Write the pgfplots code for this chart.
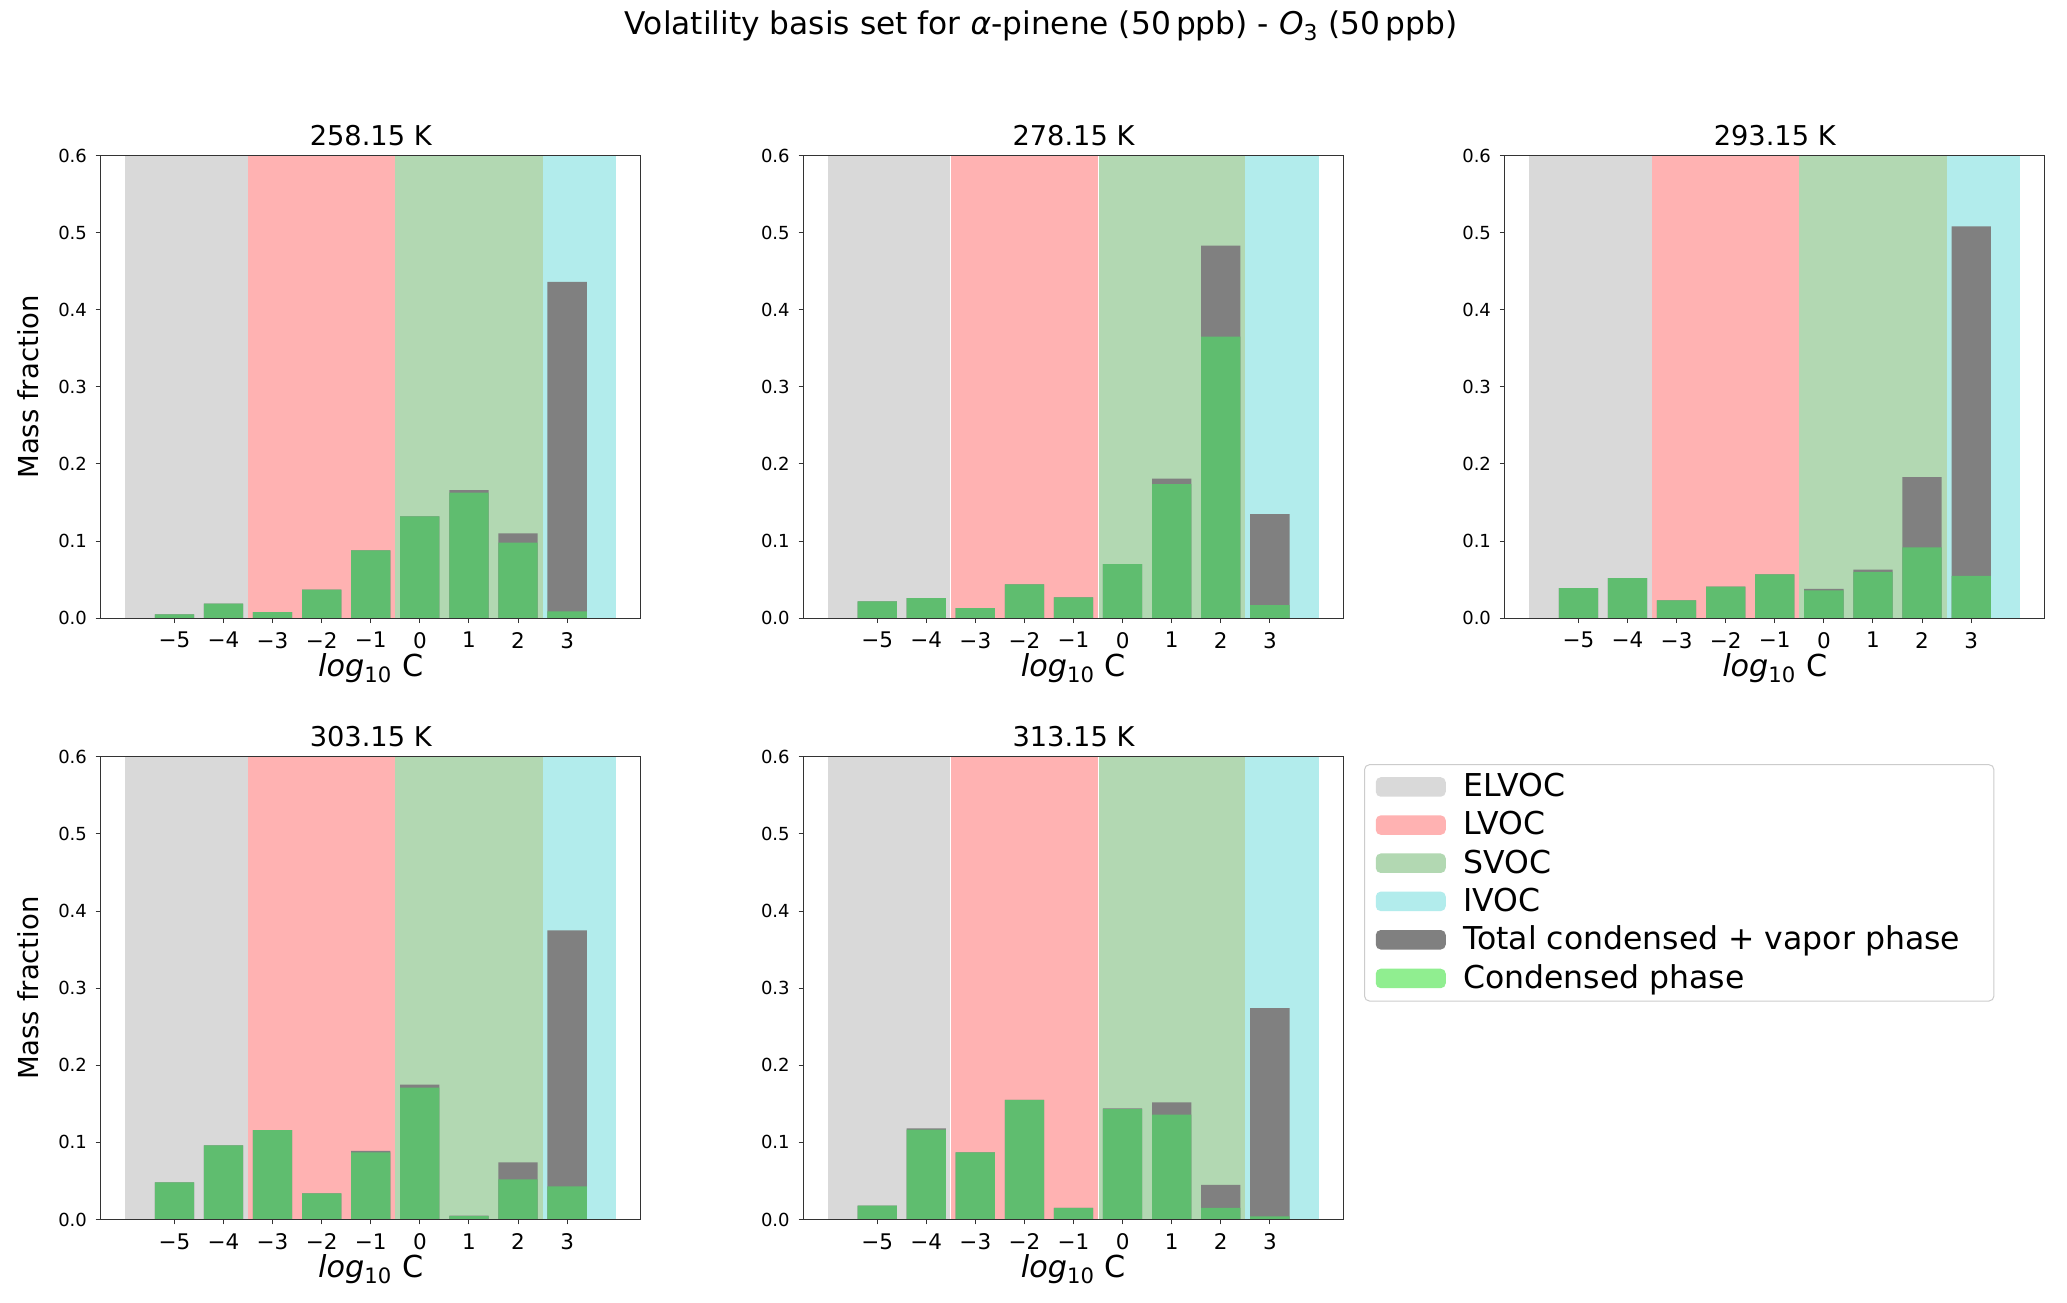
\documentclass[border=0pt]{standalone}
\usepackage{pgfplots}
\usepackage{pgfplotstable}
\usepackage{fontspec}
\pgfplotsset{compat=1.18}
\setmainfont{DejaVu Sans}

\definecolor{elvoc}{HTML}{D9D9D9}
\definecolor{lvoc}{HTML}{FFB2B2}
\definecolor{svoc}{HTML}{B2D8B2}
\definecolor{ivoc}{HTML}{B2ECEC}
\definecolor{totgray}{HTML}{808080}
\definecolor{condgreen}{HTML}{5FBD6F}
\definecolor{condlegend}{HTML}{90EE90}

% x = log10 C, total = condensed + vapour, cond = condensed only
\pgfplotstableread{
x  total  cond
-5 0.005  0.005
-4 0.019  0.019
-3 0.008  0.008
-2 0.037  0.037
-1 0.088  0.088
0  0.132  0.132
1  0.166  0.163
2  0.110  0.098
3  0.436  0.009
}\tA
\pgfplotstableread{
x  total  cond
-5 0.022  0.022
-4 0.026  0.026
-3 0.013  0.013
-2 0.044  0.044
-1 0.027  0.027
0  0.070  0.070
1  0.181  0.174
2  0.483  0.365
3  0.135  0.017
}\tB
\pgfplotstableread{
x  total  cond
-5 0.039  0.039
-4 0.052  0.052
-3 0.023  0.023
-2 0.041  0.041
-1 0.057  0.057
0  0.038  0.036
1  0.063  0.060
2  0.183  0.092
3  0.508  0.055
}\tC
\pgfplotstableread{
x  total  cond
-5 0.048  0.048
-4 0.096  0.096
-3 0.116  0.116
-2 0.034  0.034
-1 0.089  0.087
0  0.175  0.171
1  0.005  0.0045
2  0.074  0.052
3  0.375  0.043
}\tD
\pgfplotstableread{
x  total  cond
-5 0.018  0.018
-4 0.118  0.1165
-3 0.087  0.087
-2 0.155  0.155
-1 0.015  0.015
0  0.144  0.143
1  0.152  0.136
2  0.045  0.015
3  0.274  0.004
}\tE

\pgfplotsset{
  vbs/.style={
    width=216pt, height=185.1pt, scale only axis,
    anchor=south west,
    xmin=-6.5, xmax=4.5, ymin=0, ymax=0.6,
    xtick={-5,-4,-3,-2,-1,0,1,2,3},
    xticklabels={−5,−4,−3,−2,−1,0,1,2,3},
    ytick={0,0.1,0.2,0.3,0.4,0.5,0.6},
    yticklabels={0.0,0.1,0.2,0.3,0.4,0.5,0.6},
    xtick pos=bottom, ytick pos=left,
    tick align=outside, major tick length=2pt,
    tick style={black!80, line width=0.4pt},
    axis line style={black!80, line width=0.5pt},
    axis on top,
    x tick label style={font=\fontsize{8.6}{10}\selectfont},
    y tick label style={font=\fontsize{7.2}{8}\selectfont},
    xlabel={\textit{log}\textsubscript{10} C},
    xlabel style={font=\fontsize{12.1}{14}\selectfont},
    xlabel shift=-4.7pt,
    ylabel style={font=\fontsize{11}{12}\selectfont},
    ylabel shift=1pt,
    title style={font=\fontsize{10.9}{12}\selectfont, yshift=-5.5pt},
    legend image code/.code={\fill[#1] (0pt,-3.9pt) rectangle (28pt,3.9pt);},
  },
}

\newcommand{\vbspanel}[1]{%
  \addplot[draw=none, fill=elvoc, forget plot] coordinates {(-6,0) (-3.5,0) (-3.5,0.6) (-6,0.6)} -- cycle;
  \addplot[draw=none, fill=lvoc, forget plot] coordinates {(-3.5,0) (-0.5,0) (-0.5,0.6) (-3.5,0.6)} -- cycle;
  \addplot[draw=none, fill=svoc, forget plot] coordinates {(-0.5,0) (2.5,0) (2.5,0.6) (-0.5,0.6)} -- cycle;
  \addplot[draw=none, fill=ivoc, forget plot] coordinates {(2.5,0) (4,0) (4,0.6) (2.5,0.6)} -- cycle;
  \addplot[ybar, bar width=0.8, bar shift=0pt, draw=none, fill=totgray, forget plot] table[x=x, y=total] {#1};
  \addplot[ybar, bar width=0.8, bar shift=0pt, draw=none, fill=condgreen, forget plot] table[x=x, y=cond] {#1};
}
% thin light seams between the bands (seen in two of the panels)
\newcommand{\seams}{%
  \addplot[white, line width=0.35pt, forget plot] coordinates {(-3.5,0) (-3.5,0.6)};
  \addplot[white, line width=0.35pt, forget plot] coordinates {(-0.5,0) (-0.5,0.6)};
}

\begin{document}
\begin{tikzpicture}
\path[use as bounding box] (0,0) rectangle (826.8pt,521.2pt);

\node[font=\fontsize{12.5}{14}\selectfont] at (416.5pt,510.8pt)
  {Volatility basis set for \textit{α}-pinene (50\,ppb) - \textit{O}\textsubscript{3} (50\,ppb)};

\begin{axis}[vbs, at={(40.3pt,273.9pt)}, title={258.15 K}, ylabel={Mass fraction}]
  \vbspanel{\tA}
\end{axis}

\begin{axis}[vbs, at={(321.4pt,273.9pt)}, title={278.15 K}]
  \vbspanel{\tB}
  \seams
\end{axis}

\begin{axis}[vbs, at={(601.9pt,273.9pt)}, title={293.15 K}]
  \vbspanel{\tC}
\end{axis}

\begin{axis}[vbs, at={(40.3pt,33.4pt)}, title={303.15 K}, ylabel={Mass fraction}]
  \vbspanel{\tD}
\end{axis}

\begin{axis}[vbs, at={(321.4pt,33.4pt)}, title={313.15 K},
  legend cell align=left,
  legend style={at={(1.0,0.984)}, xshift=8.2pt, anchor=north west,
    draw=black!20, rounded corners=2pt, inner xsep=4.5pt, inner ysep=1.5pt,
    font=\fontsize{12.6}{14}\selectfont, row sep=0.4pt,
    /tikz/every odd column/.style={column sep=5pt}}]
  \vbspanel{\tE}
  \seams
  \addlegendimage{fill=elvoc, draw=none}
  \addlegendentry{ELVOC}
  \addlegendimage{fill=lvoc, draw=none}
  \addlegendentry{LVOC}
  \addlegendimage{fill=svoc, draw=none}
  \addlegendentry{SVOC}
  \addlegendimage{fill=ivoc, draw=none}
  \addlegendentry{IVOC}
  \addlegendimage{fill=totgray, draw=none}
  \addlegendentry{Total condensed + vapor phase\hspace*{7pt}}
  \addlegendimage{fill=condlegend, draw=none}
  \addlegendentry{Condensed phase}
\end{axis}
\end{tikzpicture}
\end{document}
